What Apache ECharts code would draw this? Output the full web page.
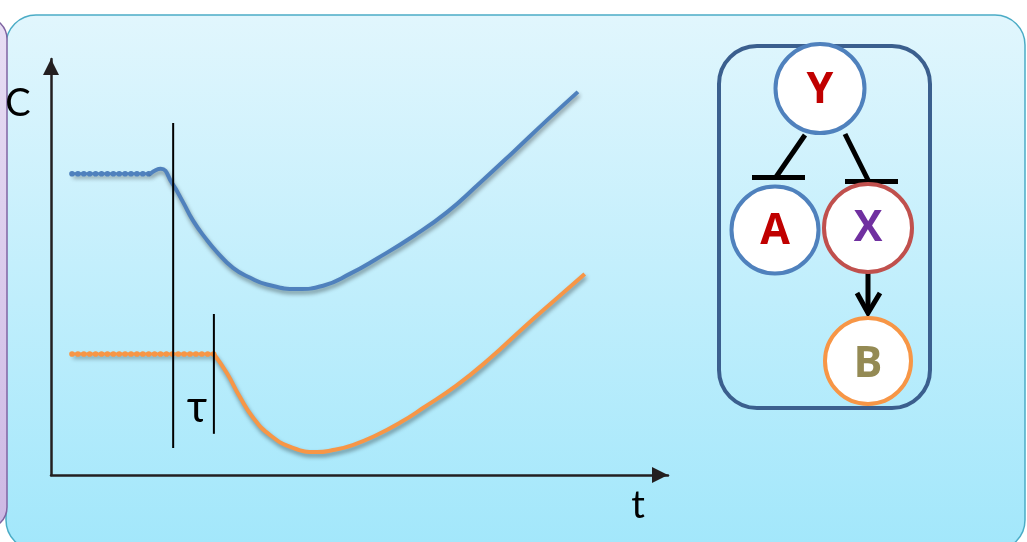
<!DOCTYPE html>
<html>
<head>
<meta charset="utf-8">
<style>
  html, body { margin: 0; padding: 0; background: #ffffff; }
  #chart { width: 1027px; height: 542px; }
</style>
<script src="https://cdn.jsdelivr.net/npm/echarts@6/dist/echarts.min.js"></script>
</head>
<body>
<div id="chart"></div>
<script>
// Concentration C over time t for the upstream node (blue) and the delayed downstream node (orange)
const blueFlatT = [3.4, 16.0];
const blueFlatC = [72.4, 72.4];
const blueT = [16.0, 17.8, 19.6, 21.4, 23.0, 25.0, 26.9, 29.5, 32.3, 35.0, 39.9, 44.1, 48.5, 52.8, 58.7, 64.2, 69.5, 74.9, 80.4, 85.4];
const blueC = [72.3, 73.6, 70.2, 65.6, 61.2, 57.0, 53.6, 49.8, 47.4, 45.8, 44.7, 45.5, 48.4, 52.0, 57.4, 63.2, 70.2, 77.6, 85.3, 92.1];

const orangeFlatT = [3.4, 26.4];
const orangeFlatC = [29.1, 29.1];
const orangeT = [26.4, 28.5, 30.6, 32.7, 35.5, 39.2, 43.1, 45.7, 48.9, 52.8, 56.6, 60.3, 65.8, 71.2, 76.5, 82.0, 86.5];
const orangeC = [29.1, 24.5, 18.8, 13.9, 9.6, 6.5, 5.5, 6.0, 7.2, 9.6, 12.6, 16.1, 21.6, 28.1, 35.3, 42.5, 48.3];

// Event markers: perturbation time and the delayed response (τ apart)
const signalT = [19.8, 19.8];
const signalC = [6.5, 84.6];
const responseT = [26.4, 26.4];
const responseC = [9.9, 38.7];

const axisNames = { x: 't', y: 'C', delay: 'τ' };
const nodeLabels = { top: 'Y', left: 'A', mid: 'X', bottom: 'B' };

const BLUE = '#4f81bd';
const ORANGE = '#f79646';
const INK = '#231f20';
const TEXT_FONT = 'Lato, "DejaVu Sans", sans-serif';
const NODE_FONT = '"Open Sans", "Liberation Sans", sans-serif';

const pairs = (xs, ys) => xs.map((x, i) => [x, ys[i]]);

const shadow = {
  shadowColor: 'rgba(0,0,0,0.4)',
  shadowBlur: 4,
  shadowOffsetX: 1,
  shadowOffsetY: 3
};

function flatSeries(xs, ys, color) {
  // baseline plus a round-capped dotted overlay to give the resting level a wavy edge
  return [
    {
      type: 'line', data: pairs(xs, ys), symbol: 'none', z: 5, silent: true,
      lineStyle: Object.assign({ color: color, width: 3 }, shadow)
    },
    {
      type: 'line', data: pairs(xs, ys), symbol: 'none', z: 6, silent: true,
      lineStyle: { color: color, width: 5.6, type: [0.1, 5.8], cap: 'round' }
    }
  ];
}

function curveSeries(xs, ys, color) {
  return {
    type: 'line', data: pairs(xs, ys), symbol: 'none', smooth: 0.5, z: 6, silent: true,
    lineStyle: Object.assign({ color: color, width: 4 }, shadow)
  };
}

function markerSeries(xs, ys) {
  return {
    type: 'line', data: pairs(xs, ys), symbol: 'none', z: 7, silent: true,
    lineStyle: { color: '#000000', width: 2 }
  };
}

const axisCommon = {
  type: 'value', min: 0, max: 100, z: 3,
  axisLine: {
    show: true, onZero: false,
    symbol: ['none', 'triangle'], symbolSize: [16, 16], symbolOffset: [0, -8],
    lineStyle: { color: INK, width: 2.5 }
  },
  axisTick: { show: false },
  axisLabel: { show: false },
  splitLine: { show: false }
};

// Regulatory motif drawn to the right of the plot
function node(cx, cy, r, stroke, label, labelColor, ly) {
  return [
    { type: 'circle', z: 20, shape: { cx: cx, cy: cy, r: r },
      style: { fill: '#ffffff', stroke: stroke, lineWidth: 4 } },
    { type: 'text', z: 21, x: cx, y: ly,
      style: { text: label, fill: labelColor, font: 'bold 43px ' + NODE_FONT,
               align: 'center', verticalAlign: 'middle' } }
  ];
}
function stroke(x1, y1, x2, y2) {
  return { type: 'line', z: 19, shape: { x1: x1, y1: y1, x2: x2, y2: y2 },
           style: { stroke: '#000000', lineWidth: 5 } };
}

const graphics = [
  // main panel
  { type: 'rect', z: -2, shape: { x: 6, y: 15, width: 1019, height: 535, r: 30 },
    style: {
      fill: new echarts.graphic.LinearGradient(0, 0, 0, 1, [
        { offset: 0, color: '#e1f6fd' }, { offset: 1, color: '#a2e7fb' }
      ]),
      stroke: '#4bacc6', lineWidth: 1.5
    } },
  // neighbouring panel edge on the left
  { type: 'rect', z: -1, shape: { x: -40, y: 17, width: 47, height: 512, r: 22 },
    style: {
      fill: new echarts.graphic.LinearGradient(0, 0, 0, 1, [
        { offset: 0, color: '#e8def4' }, { offset: 1, color: '#cdb8e4' }
      ]),
      stroke: '#8064a2', lineWidth: 1.5
    } },
  // axis names and delay label
  { type: 'text', z: 10, x: 18, y: 104,
    style: { text: axisNames.y, fill: '#000000', font: '38px ' + TEXT_FONT, align: 'center', verticalAlign: 'middle' } },
  { type: 'text', z: 10, x: 638, y: 506,
    style: { text: axisNames.x, fill: '#000000', font: '38px ' + TEXT_FONT, align: 'center', verticalAlign: 'middle' } },
  { type: 'text', z: 10, x: 197, y: 408,
    style: { text: axisNames.delay, fill: '#000000', font: '44px ' + TEXT_FONT, align: 'center', verticalAlign: 'middle' } },
  // motif frame
  { type: 'rect', z: 18, shape: { x: 719, y: 46, width: 211, height: 362, r: 38 },
    style: { fill: 'none', stroke: '#3b5f8e', lineWidth: 4 } },
  // Y ⊣ A
  stroke(805, 135, 776, 177),
  stroke(752, 177.5, 805, 177.5),
  // Y ⊣ X
  stroke(845, 134, 868, 180),
  stroke(845, 181.5, 898, 181.5),
  // X → B
  stroke(868, 272, 868, 313),
  { type: 'polyline', z: 19, shape: { points: [[857, 293], [868, 313], [880, 293]] },
    style: { stroke: '#000000', lineWidth: 5, fill: 'none' } }
].concat(
  node(820, 88.5, 44.5, '#4f81bd', nodeLabels.top, '#c00000', 91),
  node(775, 230, 43.5, '#4f81bd', nodeLabels.left, '#c00000', 232),
  node(868, 228, 44, '#c0504d', nodeLabels.mid, '#7030a0', 229),
  node(868, 361, 43, '#f79646', nodeLabels.bottom, '#948a54', 365)
);

const chart = echarts.init(document.getElementById('chart'), null, { renderer: 'canvas' });
chart.setOption({
  animation: false,
  backgroundColor: '#ffffff',
  grid: { left: 51, top: 59, width: 617, height: 416, containLabel: false },
  xAxis: Object.assign({}, axisCommon),
  yAxis: Object.assign({}, axisCommon),
  graphic: graphics,
  series: [].concat(
    flatSeries(blueFlatT, blueFlatC, BLUE),
    [curveSeries(blueT, blueC, BLUE)],
    flatSeries(orangeFlatT, orangeFlatC, ORANGE),
    [curveSeries(orangeT, orangeC, ORANGE)],
    [markerSeries(signalT, signalC), markerSeries(responseT, responseC)]
  )
});
</script>
</body>
</html>
